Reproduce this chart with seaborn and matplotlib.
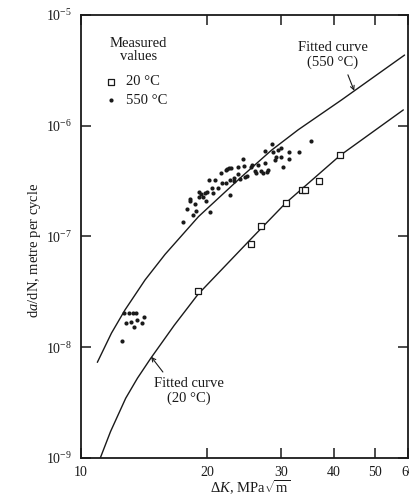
import pandas as pd
import seaborn as sns
import matplotlib.pyplot as plt
from matplotlib.ticker import FixedLocator, FixedFormatter, NullLocator


# 1. Values

# measured crack growth rates at 20 C (open squares)
dk_20 = [19.0, 25.4, 26.8, 30.7, 33.5, 34.2, 36.8, 41.4]
rate_20 = [3.24e-8, 8.6e-8, 1.25e-7, 2.0e-7, 2.65e-7, 2.63e-7, 3.15e-7, 5.41e-7]

# measured crack growth rates at 550 C (dots)
dk_550 = [
    17.5, 17.9, 18.2, 18.2, 18.5, 18.7, 18.8, 19.1, 19.1, 19.3,
    19.5, 19.8, 20.0, 20.2, 20.3, 20.5, 20.8, 20.6, 21.2, 21.5,
    21.7, 22.1, 22.3, 22.5, 22.7, 22.6, 22.8, 23.1, 23.6, 23.7,
    23.9, 24.3, 24.5, 24.6, 24.9, 25.4, 25.6, 25.9, 26.1, 26.4,
    26.8, 27.2, 27.4, 27.4, 27.7, 27.9, 28.5, 28.6, 28.9, 29.1,
    29.5, 29.9, 30.0, 30.2, 31.3, 31.3, 33.0, 35.2, 22.1, 23.1,
    19.7,
    12.7, 13.0, 13.3, 13.5, 14.1, 12.8, 13.2, 13.6, 14.0, 13.4, 12.5,
]
rate_550 = [
    1.36e-7, 1.76e-7, 2.20e-7, 2.08e-7, 1.55e-7, 1.95e-7, 1.70e-7, 2.54e-7, 2.27e-7, 2.43e-7,
    2.27e-7, 2.10e-7, 2.51e-7, 3.22e-7, 1.65e-7, 2.74e-7, 3.22e-7, 2.45e-7, 2.72e-7, 3.72e-7,
    3.04e-7, 3.99e-7, 4.07e-7, 4.13e-7, 3.24e-7, 2.38e-7, 4.13e-7, 3.37e-7, 3.67e-7, 4.21e-7,
    3.28e-7, 4.98e-7, 4.33e-7, 3.47e-7, 3.52e-7, 4.27e-7, 4.42e-7, 3.93e-7, 3.77e-7, 4.39e-7,
    3.88e-7, 3.77e-7, 4.58e-7, 5.95e-7, 3.82e-7, 3.99e-7, 6.80e-7, 5.83e-7, 4.91e-7, 5.19e-7,
    6.04e-7, 5.25e-7, 6.33e-7, 4.27e-7, 5.76e-7, 5.01e-7, 5.83e-7, 7.33e-7, 3.02e-7, 3.17e-7,
    2.49e-7,
    2.04e-8, 2.04e-8, 2.04e-8, 2.05e-8, 1.89e-8, 1.65e-8, 1.70e-8, 1.76e-8, 1.65e-8, 1.51e-8, 1.13e-8,
]

# fitted curves, points
fit_dk_20 = [11.13, 11.77, 12.79, 13.64, 14.67, 16.69, 19.0, 25.4, 30.7, 41.4, 58.5]
fit_rate_20 = [1.0e-9, 1.73e-9, 3.46e-9, 5.25e-9, 7.94e-9, 1.58e-8, 3.0e-8, 9.5e-8, 2.0e-7, 5.4e-7, 1.39e-6]

fit_dk_550 = [10.95, 11.83, 12.74, 14.22, 15.87, 19.05, 24.2, 28.4, 32.9, 41.7, 58.9]
fit_rate_550 = [7.3e-9, 1.34e-8, 2.17e-8, 4.05e-8, 6.9e-8, 1.51e-7, 3.5e-7, 6.0e-7, 9.2e-7, 1.71e-6, 4.35e-6]

x_ticks = [10, 20, 30, 40, 50, 60]
x_tick_labels = ["10", "20", "30", "40", "50", "60"]

# 2. Build tables

meas_20 = pd.DataFrame({"dK": dk_20, "rate": rate_20})
meas_550 = pd.DataFrame({"dK": dk_550, "rate": rate_550})
curve_20 = pd.DataFrame({"dK": fit_dk_20, "rate": fit_rate_20})
curve_550 = pd.DataFrame({"dK": fit_dk_550, "rate": fit_rate_550})


# 3. Style

sns.set_style("ticks")
plt.rcParams["font.family"] = ["Liberation Serif", "DejaVu Serif"]
plt.rcParams["mathtext.fontset"] = "custom"
plt.rcParams["mathtext.rm"] = "Liberation Serif"
plt.rcParams["mathtext.it"] = "Liberation Serif:italic"
plt.rcParams["mathtext.bf"] = "Liberation Serif:bold"

ink = "#1a1a1a"

fig = plt.figure(figsize=(4.10, 5.01), dpi=100)
ax = fig.add_axes([0.197, 0.086, 0.798, 0.884])


# 4. Plot

sns.lineplot(data=curve_550, x="dK", y="rate", ax=ax, color=ink, lw=1.0, sort=False)
sns.lineplot(data=curve_20, x="dK", y="rate", ax=ax, color=ink, lw=1.0, sort=False)

sns.scatterplot(data=meas_20, x="dK", y="rate", ax=ax, marker="s", s=24,
                facecolor="white", edgecolor=ink, linewidth=0.9, label="20 \u00b0C", zorder=3)
sns.scatterplot(data=meas_550, x="dK", y="rate", ax=ax, marker="o", s=9,
                color=ink, edgecolor=ink, linewidth=0, label="550 \u00b0C", zorder=3)

ax.set_xscale("log")
ax.set_yscale("log")
ax.set_xlim(10, 60)
ax.set_ylim(1e-9, 1e-5)

ax.xaxis.set_major_locator(FixedLocator(x_ticks))
ax.xaxis.set_major_formatter(FixedFormatter(x_tick_labels))
ax.xaxis.set_minor_locator(NullLocator())
ax.yaxis.set_minor_locator(NullLocator())
ax.tick_params(which="both", direction="in", top=True, right=True, length=7,
               width=1.1, color=ink, labelsize=10, labelcolor=ink, pad=6)
for side in ax.spines.values():
    side.set_linewidth(1.3)
    side.set_color(ink)

ax.set_xlabel(r"$\Delta\mathit{K}$, MPa$\sqrt{\mathrm{m}}$", fontsize=10.5, color=ink)
ax.set_ylabel(r"d$\mathit{a}$/dN, metre per cycle", fontsize=10.5, color=ink)
ax.xaxis.set_label_coords(0.517, -0.068)
ax.xaxis.label.set_verticalalignment("center")
ax.yaxis.set_label_coords(-0.14, 0.47)
ax.yaxis.label.set_verticalalignment("center")

# "Measured values" heading plus the two marker entries
ax.text(0.177, 0.921, "Measured\nvalues", transform=ax.transAxes,
        ha="center", va="center", fontsize=10.5, color=ink, linespacing=1.0)
leg = ax.legend(loc="upper left", bbox_to_anchor=(0.076, 0.864),
                frameon=False, fontsize=10.5, borderpad=0,
                borderaxespad=0, handlelength=0.8, handletextpad=0.6, labelspacing=0.35,
                markerscale=1.0)
for t in leg.get_texts():
    t.set_color(ink)

# curve captions with arrows
ax.text(0.771, 0.910, "Fitted curve\n(550 \u00b0C)", transform=ax.transAxes,
        ha="center", va="center", fontsize=10.5, color=ink, linespacing=1.15)
ax.annotate("", xy=(44.7, 2.07e-6), xytext=(0.8165, 0.865), textcoords="axes fraction",
            arrowprops=dict(arrowstyle="->", color=ink, lw=0.8, mutation_scale=7,
                            shrinkA=0, shrinkB=0))

ax.text(0.330, 0.151, "Fitted curve\n(20 \u00b0C)", transform=ax.transAxes,
        ha="center", va="center", fontsize=10.5, color=ink, linespacing=1.15)
ax.annotate("", xy=(14.7, 8.2e-9), xytext=(0.251, 0.194), textcoords="axes fraction",
            arrowprops=dict(arrowstyle="->", color=ink, lw=0.8, mutation_scale=7,
                            shrinkA=0, shrinkB=0))

fig.savefig("out.png", dpi=100, facecolor="white")
